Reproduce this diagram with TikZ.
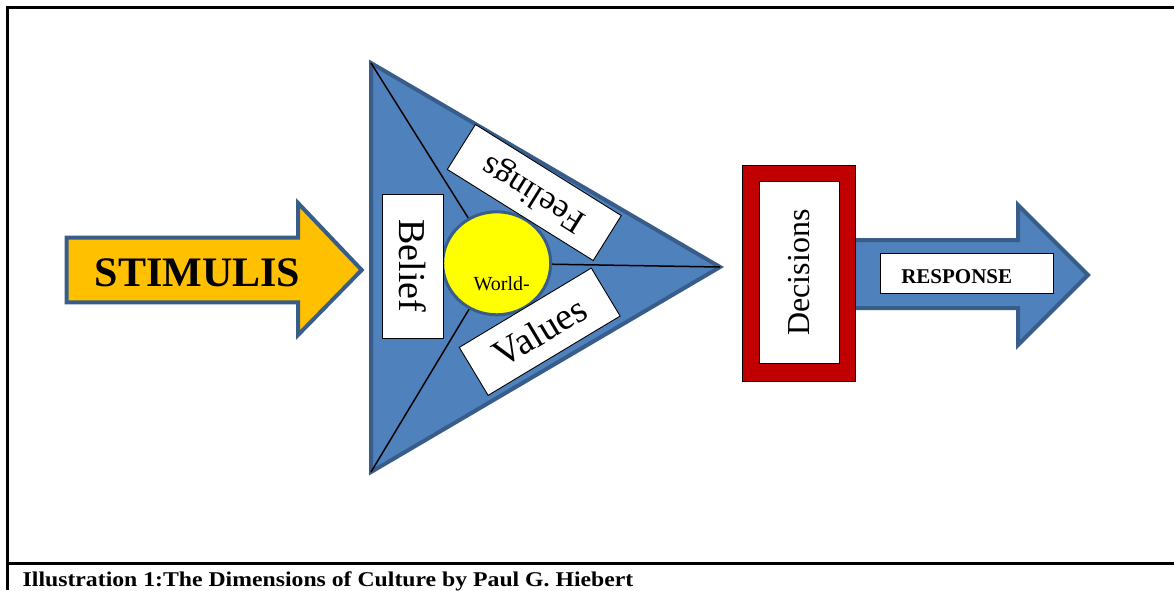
\documentclass[tikz,border=0pt]{standalone}
\usepackage{fontspec}
\setmainfont{Liberation Serif}
\usetikzlibrary{shapes.geometric}

\definecolor{wordblue}{HTML}{4F81BD}
\definecolor{wordedge}{HTML}{385D8A}
\definecolor{wordgold}{HTML}{FFC000}
\definecolor{wordred}{HTML}{C00000}
\definecolor{wordyellow}{HTML}{FFFF00}

\tikzset{
  frameline/.style={line width=2.2pt, black},
  bigarrow/.style={line width=4pt, draw=wordedge, line join=miter},
  spoke/.style={line width=1.5pt, black},
  labelbox/.style={draw=black, line width=0.9pt, fill=white, inner sep=0pt},
}

\begin{document}
\begin{tikzpicture}[x=1pt, y=-1pt]
  \useasboundingbox (0,0) rectangle (1174,590);

  % page frame and caption rule
  \coordinate (fTL) at (7.5,7.5);
  \coordinate (fTR) at (1174,7.5);
  \coordinate (fBL) at (7.5,590);
  \coordinate (rL) at (7.5,563.5);
  \coordinate (rR) at (1174,563.5);
  \draw[frameline] (fTR) -- (fTL) -- (fBL);
  \draw[frameline] (rL) -- (rR);

  % STIMULIS arrow
  \draw[bigarrow, fill=wordgold]
    (66.7,237.7) -- (298,237.7) -- (298,203) -- (361.7,270)
    -- (298,335) -- (298,302.3) -- (66.7,302.3) -- cycle;
  \node (stim) [anchor=base, inner sep=0pt, font=\fontsize{42}{46}\selectfont\bfseries]
    at (197.5,286.7) {STIMULIS};

  % triangle of the worldview
  \coordinate (tA) at (371,63);
  \coordinate (tB) at (371,472);
  \coordinate (tC) at (720,267);
  \draw[line width=4pt, draw=wordedge, fill=wordblue, line join=miter]
    (tA) -- (tC) -- (tB) -- cycle;
  \coordinate (wc) at (496.7,263.3);
  \draw[spoke] (tA) -- (wc);
  \draw[spoke] (tB) -- (wc);
  \draw[spoke] (tC) -- (wc);

  \node (world) [ellipse, draw=wordedge, line width=3pt, fill=wordyellow,
    minimum width=108, minimum height=103, inner sep=0pt] at (wc) {};
  \node (worldtxt) [anchor=base, inner sep=0pt, font=\fontsize{20}{24}\selectfont]
    at (501.7,290.7) {World-};

  \node (belief) [labelbox, rotate=-90, minimum width=144, minimum height=61,
    font=\fontsize{38}{42}\selectfont] at (412.5,266) {Belief};
  \node (feelings) [labelbox, rotate=148, minimum width=172, minimum height=53,
    font=\fontsize{34}{38}\selectfont] at (534.3,192.5) {Feelings};
  \node (values) [labelbox, rotate=31, minimum width=154, minimum height=56,
    font=\fontsize{38}{42}\selectfont] at (539.7,331.7) {Values};

  % RESPONSE arrow
  \draw[bigarrow, fill=wordblue]
    (854,240) -- (1018,240) -- (1018,205) -- (1088,275)
    -- (1018,345) -- (1018,308) -- (854,308) -- cycle;
  \node (respbox) [labelbox, minimum width=173, minimum height=40] at (966.5,273) {};
  \node (resp) [anchor=base, inner sep=0pt, font=\fontsize{21}{24}\selectfont\bfseries]
    at (956.7,283) {RESPONSE};

  % Decisions frame
  \node (decframe) [draw=black, line width=0.9pt, fill=wordred,
    minimum width=113, minimum height=216, inner sep=0pt] at (799.2,273) {};
  \node (decisions) [labelbox, rotate=90, minimum width=181.6, minimum height=79.7,
    font=\fontsize{32}{36}\selectfont] at (799.2,272.5) {Decisions};

  % caption
  \node (caption) [anchor=base west, inner sep=0pt, font=\fontsize{21}{24}\selectfont\bfseries]
    at (22.5,586.7) {\scalebox{1.13}[1]{Illustration 1:The Dimensions of Culture by Paul G. Hiebert}};
\end{tikzpicture}
\end{document}
